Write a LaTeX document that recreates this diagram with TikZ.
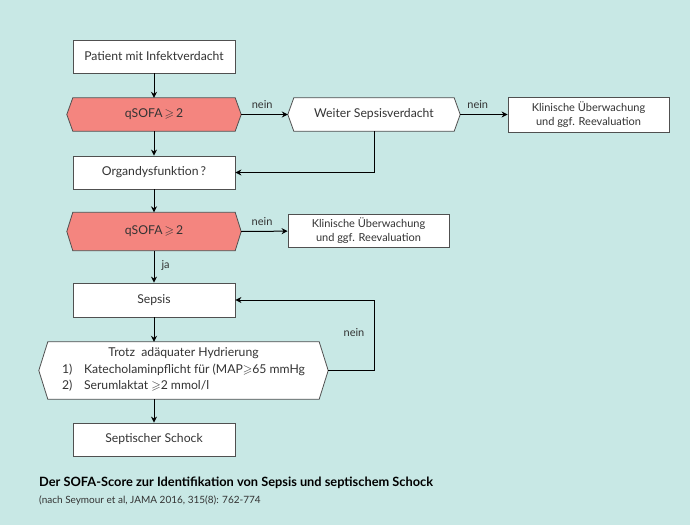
\documentclass[tikz,border=0pt]{standalone}
\usepackage{amssymb}
\usepackage{fontspec}
\setmainfont{Lato}
\usetikzlibrary{arrows.meta,backgrounds,calc}
\definecolor{bgteal}{HTML}{C8E8E5}
\definecolor{qred}{HTML}{F4857F}
\definecolor{edgegray}{HTML}{505050}
\definecolor{txtgray}{HTML}{333333}
\newcommand\gesl{$\geqslant$}
\tikzset{
  box/.style={draw=edgegray, fill=white, line width=0.8pt, minimum width=162pt, minimum height=33pt, inner sep=0pt, text=txtgray, font=\fontsize{12.2}{14}\selectfont},
  smallbox/.style={draw=edgegray, fill=white, line width=0.8pt, minimum width=161pt, minimum height=34pt, inner sep=0pt, text=txtgray, align=center, font=\fontsize{11}{13.5}\selectfont},
  hexnode/.style={draw=none, inner sep=0pt, text=txtgray, font=\fontsize{12.2}{14}\selectfont},
  hexred/.style={fill=qred, draw=edgegray, line width=0.8pt},
  hexwhite/.style={fill=white, draw=edgegray, line width=0.8pt},
  conn/.style={draw=black, line width=1pt, -{Stealth[length=6pt,width=6pt]}},
  lbl/.style={text=txtgray, font=\fontsize{11}{13}\selectfont, inner sep=0pt},
}
\newcommand\hexpath[3]{% node, shift, style
  \path[#3] (#1.north west) -- (#1.north east) -- ([xshift=#2]#1.east) -- (#1.south east) -- (#1.south west) -- ([xshift=-#2]#1.west) -- cycle;
  \coordinate (#1R) at ([xshift=#2]#1.east);
  \coordinate (#1L) at ([xshift=-#2]#1.west);
}
\begin{document}
\begin{tikzpicture}[x=1pt,y=-1pt]
\begin{scope}[on background layer]
\fill[bgteal] (0,0) rectangle (690,525);
\end{scope}
\useasboundingbox (0,0) rectangle (690,525);

% nodes
\node[box] (p) at (154,56.5) {Patient mit Infektverdacht};
\node[hexnode, minimum width=162pt, minimum height=33pt] (q1) at (154,114.5) {qSOFA\,\gesl\,2};
\node[hexnode, minimum width=160pt, minimum height=33pt] (w) at (374,114.5) {Weiter Sepsisverdacht};
\node[smallbox, minimum height=35pt] (k1) at (588.5,114.5) {Klinische Überwachung\\und ggf. Reevaluation};
\node[box] (o) at (154,172.5) {Organdysfunktion\,?};
\node[hexnode, minimum width=162pt, minimum height=38pt] (q2) at (154,231.5) {qSOFA\,\gesl\,2};
\node[smallbox, minimum height=33pt] (k2) at (368.5,230.5) {Klinische Überwachung\\und ggf. Reevaluation};
\node[box, minimum height=34pt] (s) at (154,300) {Sepsis};
\node[hexnode, minimum width=271pt, minimum height=57pt] (bh) at (183.5,370.5) {%
  \begin{tabular}{@{}p{22pt}@{}l@{}}
  \multicolumn{2}{c}{Trotz\ \ adäquater Hydrierung}\\[2.5pt]
  1) & Katecholaminpflicht für (MAP\gesl65 mmHg\\[2.5pt]
  2) & Serumlaktat \gesl2 mmol/l
  \end{tabular}};
\node[box] (ss) at (154,439.5) {Septischer Schock};

% hexagon outlines
\begin{scope}[on background layer]
\hexpath{q1}{6pt}{hexred}
\hexpath{w}{6pt}{hexwhite}
\hexpath{q2}{6pt}{hexred}
\hexpath{bh}{9pt}{hexwhite}
\end{scope}

% connectors
\draw[conn] (p) -- (q1);
\draw[conn] (q1) -- (o);
\draw[conn] (q1R) -- node[lbl, above=5pt, pos=0.45] (n1) {nein} (wL);
\draw[conn] (wR) -- node[lbl, above=5pt, pos=0.37] (n2) {nein} (k1);
\draw[conn] (w.south) |- (o.east);
\draw[conn] (o) -- (q2);
\draw[conn] (q2R) -- node[lbl, above=5pt, pos=0.45] (n3) {nein} (k2);
\draw[conn] (q2) -- node[lbl, right=7pt, pos=0.45] (n4) {ja} (s);
\draw[conn] (s.south) -- (s.south |- bh.north);
\coordinate (rt) at (374,370.5);
\draw[conn] (bhR) -- (rt) |- (s.east);
\node[lbl] (n5) at (354,333) {nein};
\draw[conn] (bh.south -| ss.north) -- (ss.north);

% caption
\node[anchor=west, inner sep=0pt, text=black, font=\bfseries\fontsize{12.8}{14}\selectfont] (cap1) at (39,483) {Der SOFA-Score zur Identifikation von Sepsis und septischem Schock};
\node[anchor=west, inner sep=0pt, text=txtgray, font=\fontsize{10}{12}\selectfont] (cap2) at (39,500) {(nach Seymour et al, JAMA 2016, 315(8): 762-774};
\end{tikzpicture}
\end{document}
